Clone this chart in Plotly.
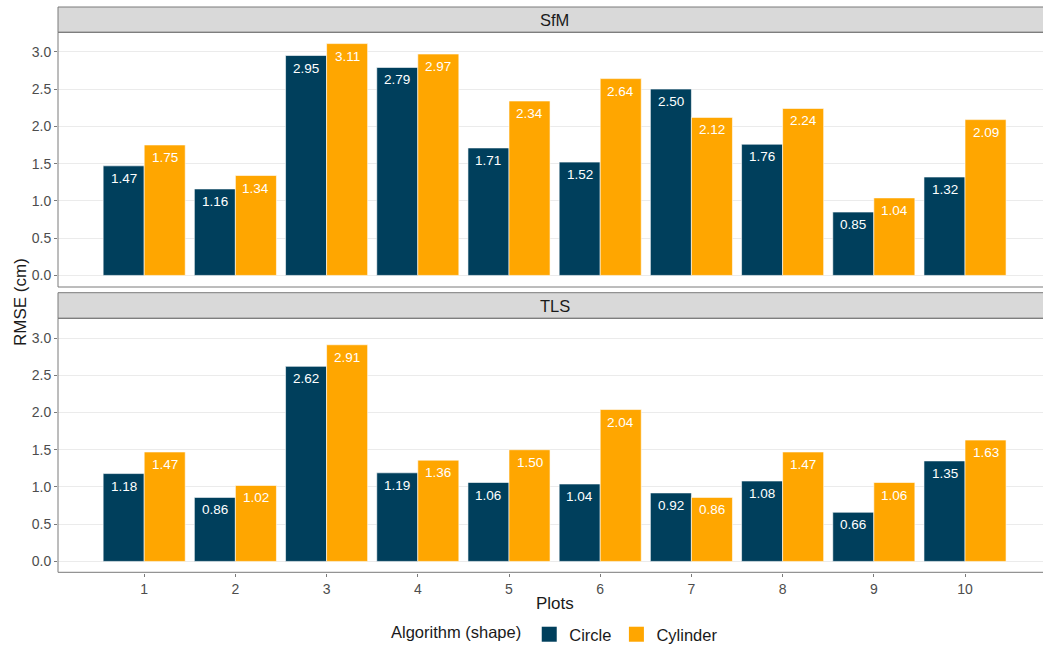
import plotly.graph_objects as go

# RMSE (cm) per plot, by algorithm and by point-cloud source
plots = [1, 2, 3, 4, 5, 6, 7, 8, 9, 10]
sfm_circle = [1.47, 1.16, 2.95, 2.79, 1.71, 1.52, 2.50, 1.76, 0.85, 1.32]
sfm_cylinder = [1.75, 1.34, 3.11, 2.97, 2.34, 2.64, 2.12, 2.24, 1.04, 2.09]
tls_circle = [1.18, 0.86, 2.62, 1.19, 1.06, 1.04, 0.92, 1.08, 0.66, 1.35]
tls_cylinder = [1.47, 1.02, 2.91, 1.36, 1.50, 2.04, 0.86, 1.47, 1.06, 1.63]
panels = ["SfM", "TLS"]
algorithms = ["Circle", "Cylinder"]
y_ticks = [0.0, 0.5, 1.0, 1.5, 2.0, 2.5, 3.0]

CIRCLE = "#003f5c"
CYLINDER = "#ffa600"
FONT = "Liberation Sans, Arial, sans-serif"
LINE = "#7a7a7a"
TEXT = "#1a1a1a"

W, H = 1043, 652
M_L, M_R, M_T, M_B = 58, 0, 32, 79
plot_h = H - M_T - M_B


def py(pix):
    """pixel row -> paper y"""
    return (H - M_B - pix) / plot_h


def px(pix):
    """pixel column -> paper x"""
    return (pix - M_L) / (W - M_L - M_R)


fig = go.Figure()

series = [
    ("x", "y", sfm_circle, sfm_cylinder),
    ("x2", "y2", tls_circle, tls_cylinder),
]
for xa, ya, circ, cyl in series:
    for vals, colour, name in ((circ, CIRCLE, algorithms[0]), (cyl, CYLINDER, algorithms[1])):
        fig.add_trace(go.Bar(x=plots, y=vals, name=name,
                             marker=dict(color=colour, line=dict(color="white", width=0.6)),
                             xaxis=xa, yaxis=ya, showlegend=False, legendgroup=name, hoverinfo="x+y"))

# legend keys (square swatches)
for colour, name in ((CIRCLE, algorithms[0]), (CYLINDER, algorithms[1])):
    fig.add_trace(go.Scatter(x=[None], y=[None], mode="markers", name=name, legendgroup=name,
                             marker=dict(symbol="square", size=15, color=colour), xaxis="x2", yaxis="y2"))

annotations = []
# value labels inside the top of each bar
dodge = 0.225
for xa, ya, circ, cyl in series:
    for p, vc, vy in zip(plots, circ, cyl):
        for off, v in ((-dodge, vc), (dodge, vy)):
            annotations.append(dict(x=p + off, y=v, xref=xa, yref=ya, text=f"{v:.2f}", showarrow=False,
                                    yanchor="middle", yshift=-12.5,
                                    font=dict(family=FONT, size=13.5, color="white")))

x_range = [0.055, 10.855]
y_range = [-0.1555, 3.2655]

dom1 = [py(287), 1.0]
dom2 = [0.0, py(318.3)]

axis_common = dict(range=x_range, showgrid=False, zeroline=False, showline=False)
yaxis_common = dict(range=y_range, tickvals=y_ticks, tickformat=".1f", showgrid=True, gridcolor="#ebebeb",
                    gridwidth=1, zeroline=False, showline=False, ticks="outside", ticklen=3, tickcolor=LINE,
                    tickfont=dict(family=FONT, size=14, color="#4d4d4d"))

fig.update_layout(
    width=W, height=H,
    margin=dict(l=M_L, r=M_R, t=M_T, b=M_B),
    paper_bgcolor="white", plot_bgcolor="white",
    barmode="group", bargap=0.1, bargroupgap=0,
    xaxis=dict(**axis_common, anchor="y", showticklabels=False, ticks=""),
    yaxis=dict(**yaxis_common, domain=dom1, anchor="x"),
    xaxis2=dict(**axis_common, anchor="y2", tickvals=plots, ticks="outside", ticklen=3, tickcolor=LINE,
                tickfont=dict(family=FONT, size=14, color="#4d4d4d")),
    yaxis2=dict(**yaxis_common, domain=dom2, anchor="x2"),
    legend=dict(orientation="h", x=px(556), xanchor="center", y=py(635), yanchor="middle",
                font=dict(family=FONT, size=16.5, color=TEXT), itemclick=False,
                title=dict(text="Algorithm (shape)", font=dict(family=FONT, size=16.5, color=TEXT))),
    font=dict(family=FONT),
)

shapes = []
strips = [(7, 32.3), (292.7, 318.3)]
panel_box = [(32.3, 287), (318.3, 572.3)]
for (s0, s1), (p0, p1), name in zip(strips, panel_box, panels):
    # facet strip
    shapes.append(dict(type="rect", xref="paper", yref="paper", x0=0, x1=1.02, y0=py(s1), y1=py(s0),
                       fillcolor="#d9d9d9", line=dict(color=LINE, width=1), layer="above"))
    # panel border (right edge runs past the canvas)
    shapes.append(dict(type="rect", xref="paper", yref="paper", x0=0, x1=1.02, y0=py(p1), y1=py(p0),
                       fillcolor="rgba(0,0,0,0)", line=dict(color=LINE, width=1), layer="above"))
    annotations.append(dict(x=5.5, xref="x", y=py((s0 + s1) / 2), yref="paper", text=name, showarrow=False,
                            xanchor="center", yanchor="middle", font=dict(family=FONT, size=16.5, color=TEXT)))

# axis titles
annotations.append(dict(x=5.5, xref="x", y=py(603), yref="paper", text="Plots", showarrow=False,
                        xanchor="center", yanchor="middle", font=dict(family=FONT, size=17, color=TEXT)))
annotations.append(dict(x=px(20), xref="paper", y=py(302), yref="paper", text="RMSE (cm)", showarrow=False,
                        textangle=-90, xanchor="center", yanchor="middle",
                        font=dict(family=FONT, size=17, color=TEXT)))

fig.update_layout(shapes=shapes, annotations=annotations)

fig.write_html("out.html")
